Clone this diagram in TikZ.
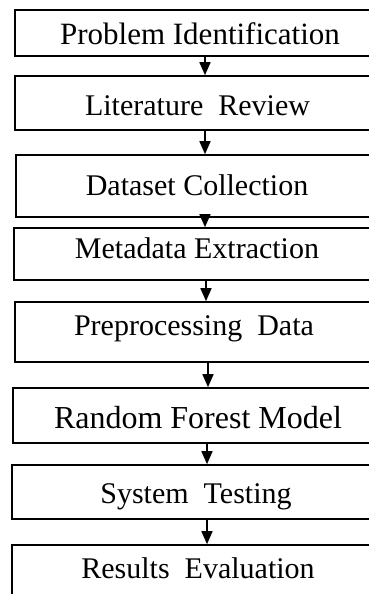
\documentclass[tikz,border=0pt]{standalone}
\usepackage{fontspec}
\setmainfont{Liberation Serif}
\usetikzlibrary{arrows.meta}
\tikzset{
  stepbox/.style={draw=black, line width=1.6pt, rectangle, inner sep=0pt},
  txt/.style={anchor=base, inner sep=0pt, font=\fontsize{30}{36}\selectfont},
  bigtxt/.style={txt, font=\fontsize{32}{38}\selectfont},
  arr/.style={line width=1.6pt, -{Triangle[width=11pt,length=13pt]}}
}
\begin{document}
\begin{tikzpicture}[x=1pt,y=-1pt]
\useasboundingbox (0,0) rectangle (369,594);
\clip (0,0) rectangle (369,594);
% boxes; right edge beyond the page
\node[stepbox, minimum width=366pt, minimum height=46pt] (b1) at (198,33) {};
\node[stepbox, minimum width=366pt, minimum height=54pt] (b2) at (198,103) {};
\node[stepbox, minimum width=365pt, minimum height=62pt] (b3) at (198.5,186) {};
\node[stepbox, minimum width=367pt, minimum height=52pt] (b4) at (197.5,254) {};
\node[stepbox, minimum width=366pt, minimum height=60pt] (b5) at (198,332) {};
\node[stepbox, minimum width=368pt, minimum height=55pt] (b6) at (197,415.5) {};
\node[stepbox, minimum width=369pt, minimum height=54pt] (b7) at (196.5,492) {};
\node[stepbox, minimum width=369pt, minimum height=60pt] (b8) at (196.5,575) {};
% texts
\node[txt, font=\fontsize{31}{37}\selectfont] (t1) at (200,45) {Problem Identification};
\node[txt] (t2) at (197.5,115) {Literature\ \ Review};
\node[txt] (t3) at (197,195) {Dataset Collection};
\node[txt] (t4) at (197,258) {Metadata Extraction};
\node[txt] (t5) at (194,335) {Preprocessing\ \ Data};
\node[bigtxt] (t6) at (198,428) {Random Forest Model};
\node[txt] (t7) at (196,503) {System\ \ Testing};
\node[txt] (t8) at (198,578) {Results\ \ Evaluation};
% arrows
\draw[arr] (b1.south -| 205,0) -- (b2.north -| 205,0);
\draw[arr] (b2.south -| 205,0) -- (b3.north -| 205,0);
\draw[arr] (b3.south -| 205,0) -- (b4.north -| 205,0);
\draw[arr] (b4.south -| 206,0) -- (b5.north -| 206,0);
\draw[arr] (b5.south -| 208,0) -- (b6.north -| 208,0);
\draw[arr] (b6.south -| 207,0) -- (b7.north -| 207,0);
\draw[arr] (b7.south -| 207,0) -- (b8.north -| 207,0);
\end{tikzpicture}
\end{document}
